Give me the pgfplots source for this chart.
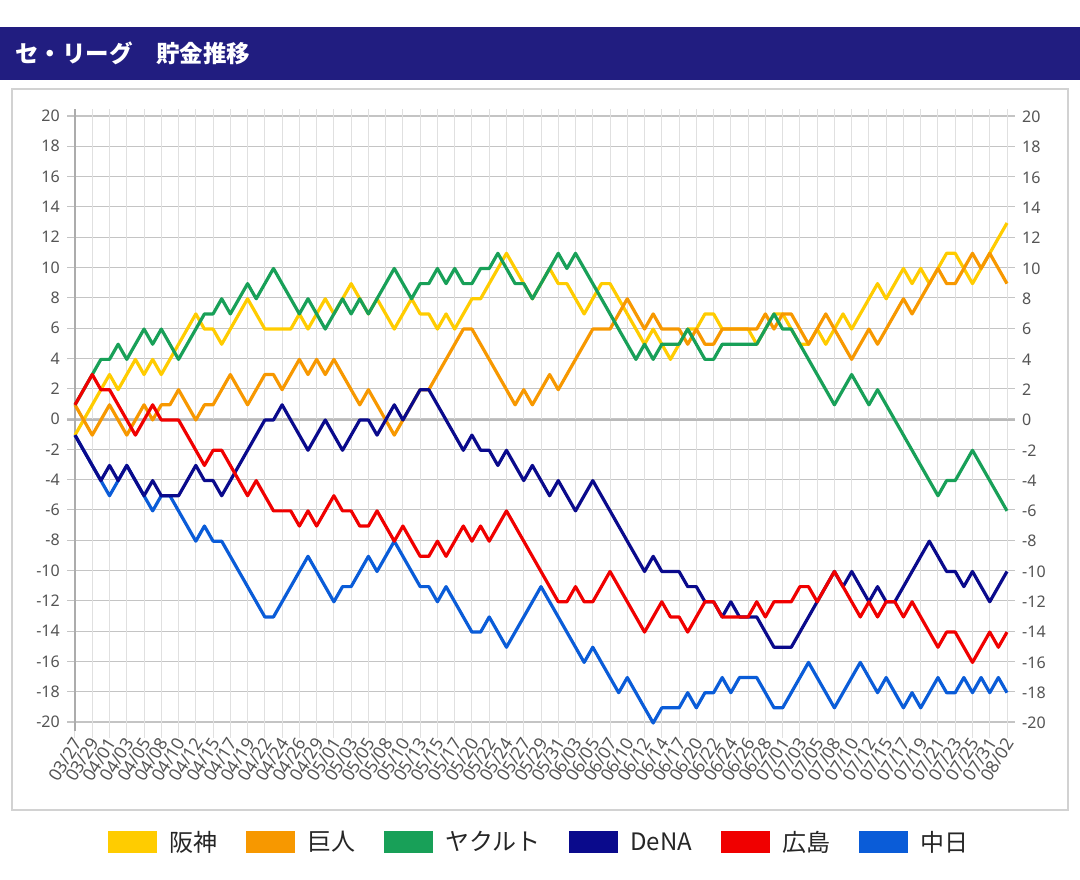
\documentclass[border=0pt]{standalone}
\usepackage{fontspec}
\setmainfont{Noto Sans}
\newfontfamily\jp{Noto Sans CJK JP}
\usepackage{pgfplots}
\usepackage{pgfplotstable}
\pgfplotsset{compat=1.18}
\definecolor{hanshin}{RGB}{255,204,0}
\definecolor{kyojin}{RGB}{247,152,0}
\definecolor{yakult}{RGB}{24,160,88}
\definecolor{dena}{RGB}{10,10,140}
\definecolor{hiroshima}{RGB}{240,0,0}
\definecolor{chunichi}{RGB}{10,92,216}
\definecolor{banner}{RGB}{33,29,128}
\definecolor{hgrid}{RGB}{196,196,196}
\definecolor{vgrid}{RGB}{224,224,224}
\definecolor{ticklab}{RGB}{85,85,85}
\definecolor{panel}{RGB}{210,210,210}

\pgfplotstableread{
i H K Y D R C
0 -1 1 1 -1 1 -1
1 0 0 2 -2 2 -2
2 1 -1 3 -3 3 -3
3 2 0 4 -4 2 -4
4 3 1 4 -3 2 -5
5 2 0 5 -4 1 -4
6 3 -1 4 -3 0 -3
7 4 0 5 -4 -1 -4
8 3 1 6 -5 0 -5
9 4 0 5 -4 1 -6
10 3 1 6 -5 0 -5
11 4 1 5 -5 0 -5
12 5 2 4 -5 0 -6
13 6 1 5 -4 -1 -7
14 7 0 6 -3 -2 -8
15 6 1 7 -4 -3 -7
16 6 1 7 -4 -2 -8
17 5 2 8 -5 -2 -8
18 6 3 7 -4 -3 -9
19 7 2 8 -3 -4 -10
20 8 1 9 -2 -5 -11
21 7 2 8 -1 -4 -12
22 6 3 9 0 -5 -13
23 6 3 10 0 -6 -13
24 6 2 9 1 -6 -12
25 6 3 8 0 -6 -11
26 7 4 7 -1 -7 -10
27 6 3 8 -2 -6 -9
28 7 4 7 -1 -7 -10
29 8 3 6 0 -6 -11
30 7 4 7 -1 -5 -12
31 8 3 8 -2 -6 -11
32 9 2 7 -1 -6 -11
33 8 1 8 0 -7 -10
34 7 2 7 0 -7 -9
35 8 1 8 -1 -6 -10
36 7 0 9 0 -7 -9
37 6 -1 10 1 -8 -8
38 7 0 9 0 -7 -9
39 8 1 8 1 -8 -10
40 7 2 9 2 -9 -11
41 7 2 9 2 -9 -11
42 6 3 10 1 -8 -12
43 7 4 9 0 -9 -11
44 6 5 10 -1 -8 -12
45 7 6 9 -2 -7 -13
46 8 6 9 -1 -8 -14
47 8 5 10 -2 -7 -14
48 9 4 10 -2 -8 -13
49 10 3 11 -3 -7 -14
50 11 2 10 -2 -6 -15
51 10 1 9 -3 -7 -14
52 9 2 9 -4 -8 -13
53 8 1 8 -3 -9 -12
54 9 2 9 -4 -10 -11
55 10 3 10 -5 -11 -12
56 9 2 11 -4 -12 -13
57 9 3 10 -5 -12 -14
58 8 4 11 -6 -11 -15
59 7 5 10 -5 -12 -16
60 8 6 9 -4 -12 -15
61 9 6 8 -5 -11 -16
62 9 6 7 -6 -10 -17
63 8 7 6 -7 -11 -18
64 7 8 5 -8 -12 -17
65 6 7 4 -9 -13 -18
66 5 6 5 -10 -14 -19
67 6 7 4 -9 -13 -20
68 5 6 5 -10 -12 -19
69 4 6 5 -10 -13 -19
70 5 6 5 -10 -13 -19
71 6 5 6 -11 -14 -18
72 6 6 5 -11 -13 -19
73 7 5 4 -12 -12 -18
74 7 5 4 -12 -12 -18
75 6 6 5 -13 -13 -17
76 6 6 5 -12 -13 -18
77 6 6 5 -13 -13 -17
78 6 6 5 -13 -13 -17
79 5 6 5 -13 -12 -17
80 6 7 6 -14 -13 -18
81 7 6 7 -15 -12 -19
82 7 7 6 -15 -12 -19
83 6 7 6 -15 -12 -18
84 5 6 5 -14 -11 -17
85 5 5 4 -13 -11 -16
86 6 6 3 -12 -12 -17
87 5 7 2 -11 -11 -18
88 6 6 1 -10 -10 -19
89 7 5 2 -11 -11 -18
90 6 4 3 -10 -12 -17
91 7 5 2 -11 -13 -16
92 8 6 1 -12 -12 -17
93 9 5 2 -11 -13 -18
94 8 6 1 -12 -12 -17
95 9 7 0 -12 -12 -18
96 10 8 -1 -11 -13 -19
97 9 7 -2 -10 -12 -18
98 10 8 -3 -9 -13 -19
99 9 9 -4 -8 -14 -18
100 10 10 -5 -9 -15 -17
101 11 9 -4 -10 -14 -18
102 11 9 -4 -10 -14 -18
103 10 10 -3 -11 -15 -17
104 9 11 -2 -10 -16 -18
105 10 10 -3 -11 -15 -17
106 11 11 -4 -12 -14 -18
107 12 10 -5 -11 -15 -17
108 13 9 -6 -10 -14 -18
}\standings

\begin{document}
\begin{tikzpicture}
\useasboundingbox (0pt,0pt) rectangle (1080pt,880pt);
\fill[white] (0pt,0pt) rectangle (1080pt,880pt);
\fill[banner] (0pt,800pt) rectangle (1080pt,853pt);
\node[anchor=west, text=white, inner sep=0pt, font=\jp\bfseries\fontsize{23.5}{25}\selectfont] at (15pt,826.5pt) {セ・リーグ　貯金推移};
\draw[draw=panel, line width=1.5pt] (12pt,70pt) rectangle (1068pt,791pt);

% horizontal grid + left labels
\begin{axis}[
  at={(67pt,158pt)}, anchor=south west, scale only axis,
  width=948pt, height=613.6pt,
  xmin=0, xmax=1, ymin=-20, ymax=20.5,
  xtick=\empty,
  ytick={-20,-18,...,20},
  yticklabels={-20,-18,-16,-14,-12,-10,-8,-6,-4,-2,0,2,4,6,8,10,12,14,16,18,20},
  yticklabel style={font=\fontsize{16}{16}\selectfont, text=ticklab, anchor=east, inner sep=0pt, xshift=-7pt},
  axis line style={draw=none},
  major tick length=0pt,
  ymajorgrids=true,
  major grid style={draw=hgrid, line width=1.1pt},
]
\end{axis}

\begin{axis}[
  at={(75pt,142pt)}, anchor=south west, scale only axis,
  width=932pt, height=628.6pt,
  xmin=0, xmax=108, ymin=-20.99, ymax=20.5,
  clip=false,
  xtick={0,2,...,108},
  xticklabels={03/27,03/29,04/01,04/03,04/05,04/08,04/10,04/12,04/15,04/17,04/19,04/22,04/24,04/26,04/29,05/01,05/03,05/05,05/08,05/10,05/13,05/15,05/17,05/20,05/22,05/24,05/27,05/29,05/31,06/03,06/05,06/07,06/10,06/12,06/14,06/17,06/20,06/22,06/24,06/26,06/28,07/01,07/03,07/05,07/08,07/10,07/12,07/15,07/17,07/19,07/21,07/23,07/25,07/31,08/02},
  xticklabel style={font=\fontsize{17.5}{17.5}\selectfont, text=ticklab, rotate=58, anchor=east, inner sep=0pt, yshift=-3pt},
  ytick={-20,-18,...,20},
  yticklabels={-20,-18,-16,-14,-12,-10,-8,-6,-4,-2,0,2,4,6,8,10,12,14,16,18,20},
  yticklabel pos=right,
  yticklabel style={font=\fontsize{16}{16}\selectfont, text=ticklab, anchor=west, inner sep=0pt, xshift=15pt},
  axis line style={draw=none},
  major tick length=0pt,
  xmajorgrids=true,
  major grid style={draw=vgrid, line width=1pt},
  legend columns=6,
  legend image code/.code={\fill[#1] (0pt,-11pt) rectangle (49pt,11pt);},
  legend style={at={(axis description cs:0.498,-0.1654)}, anchor=center, draw=none, fill=none,
    font=\jp\fontsize{24}{24}\selectfont, text=black!85,
    /tikz/every odd column/.append style={column sep=10pt},
    /tikz/every even column/.append style={column sep=27pt}},
]
\draw[draw=gray!55, line width=1.4pt] (axis cs:-0.93,0) -- (axis cs:108.93,0);
\draw[draw=gray!65, line width=1.4pt] (axis cs:0,-20.5) -- (axis cs:0,20.5);

\addlegendimage{fill=hanshin, draw=none}\addlegendentry{阪神}
\addlegendimage{fill=kyojin, draw=none}\addlegendentry{巨人}
\addlegendimage{fill=yakult, draw=none}\addlegendentry{ヤクルト}
\addlegendimage{fill=dena, draw=none}\addlegendentry{DeNA}
\addlegendimage{fill=hiroshima, draw=none}\addlegendentry{広島}
\addlegendimage{fill=chunichi, draw=none}\addlegendentry{中日}

\addplot[forget plot, chunichi, line width=3.2pt, line join=round] table[x=i, y=C] {\standings};
\addplot[forget plot, hanshin, line width=3.2pt, line join=round] table[x=i, y=H] {\standings};
\addplot[forget plot, kyojin, line width=3.2pt, line join=round] table[x=i, y=K] {\standings};
\addplot[forget plot, yakult, line width=3.2pt, line join=round] table[x=i, y=Y] {\standings};
\addplot[forget plot, dena, line width=3.2pt, line join=round] table[x=i, y=D] {\standings};
\addplot[forget plot, hiroshima, line width=3.2pt, line join=round] table[x=i, y=R] {\standings};
\end{axis}
\end{tikzpicture}
\end{document}
